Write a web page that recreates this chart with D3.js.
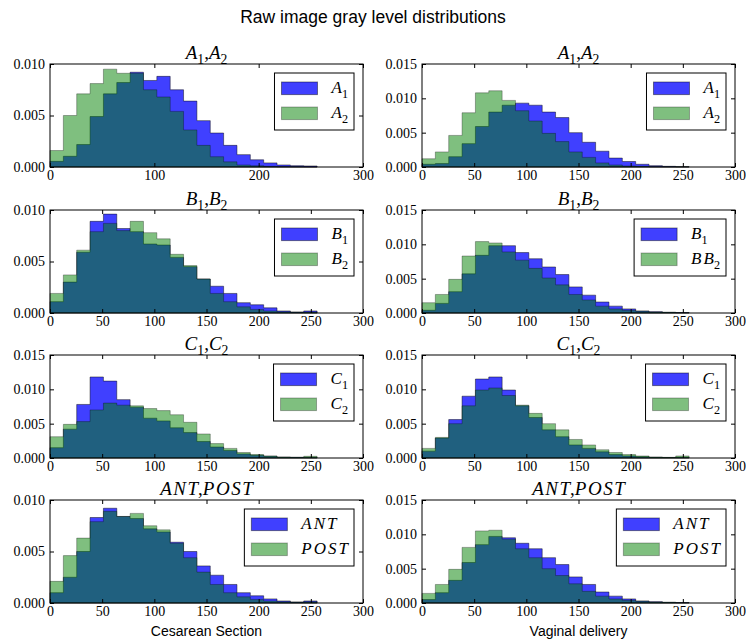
<!DOCTYPE html>
<html>

<head>
    <meta charset="utf-8">
    <title>gray level distributions</title>
    <style type="text/css">
    body {
        margin: 0;
        background: #fff;
    }

    .tick text {
        font-family: "Liberation Serif", serif;
        font-size: 14px;
        fill: #000;
    }

    .tick line {
        stroke: #000;
    }
    </style>
</head>

<body>
    <script src="https://cdn.jsdelivr.net/npm/d3@7"></script>
    <script>
    // bin edges of the 20-bin histograms (gray levels 0..256)
    var binEdges = [0, 12.8, 25.6, 38.4, 51.2, 64, 76.8, 89.6, 102.4, 115.2, 128,
        140.8, 153.6, 166.4, 179.2, 192, 204.8, 217.6, 230.4, 243.2, 256];

    // Cesarean section
    var csA1 = [0.00055, 0.00104, 0.00218, 0.0049, 0.0071, 0.0082, 0.0092, 0.0084, 0.0088, 0.0075,
        0.0064, 0.0045, 0.0033, 0.0021, 0.0012, 0.0007, 0.0004, 0.0002, 0.00013, 0.0001];
    var csA2 = [0.0016, 0.0050, 0.0071, 0.0081, 0.0095, 0.0091, 0.0091, 0.0075, 0.0068, 0.0054,
        0.0036, 0.0021, 0.0010, 0.0005, 0.0002, 0.00013, 0.00006, 0.00003, 0.00002, 0.00001];
    var csB1 = [0.0011, 0.0030, 0.0059, 0.0089, 0.0096, 0.0082, 0.0079, 0.0067, 0.0066, 0.0054,
        0.0045, 0.0033, 0.0026, 0.0019, 0.0010, 0.0008, 0.0005, 0.0002, 0.0001, 0.0002];
    var csB2 = [0.0019, 0.0037, 0.0061, 0.0079, 0.0087, 0.0080, 0.0089, 0.0078, 0.0072, 0.0057,
        0.0046, 0.0033, 0.0019, 0.0011, 0.0006, 0.00035, 0.0002, 0.00012, 0.00007, 0.0001];
    var csC1 = [0.0015, 0.0042, 0.0078, 0.0118, 0.0112, 0.0085, 0.0074, 0.0058, 0.0054, 0.0044,
        0.0037, 0.0024, 0.0016, 0.0011, 0.0006, 0.0004, 0.00025, 0.00012, 0.0001, 0.0001];
    var csC2 = [0.0031, 0.0049, 0.0053, 0.0070, 0.0080, 0.0077, 0.0076, 0.0072, 0.0069, 0.0063,
        0.0052, 0.0035, 0.0021, 0.0014, 0.0008, 0.0005, 0.0003, 0.00015, 0.0001, 0.00025];
    var csANT = [0.0010, 0.0025, 0.0050, 0.0083, 0.0092, 0.0084, 0.0082, 0.0072, 0.0069, 0.0059,
        0.0050, 0.0036, 0.0027, 0.0018, 0.0010, 0.0007, 0.0004, 0.0002, 0.0001, 0.0002];
    var csPOST = [0.0021, 0.0046, 0.0063, 0.0079, 0.0089, 0.0084, 0.0087, 0.0075, 0.0071, 0.0058,
        0.0044, 0.0030, 0.0018, 0.0010, 0.0006, 0.00035, 0.0002, 0.00012, 0.00008, 0.00012];

    // Vaginal delivery
    var vdA1 = [0.0004, 0.0005, 0.0015, 0.0034, 0.0059, 0.0080, 0.0090, 0.0093, 0.0090, 0.0080,
        0.0072, 0.0050, 0.0036, 0.0023, 0.0013, 0.0008, 0.0004, 0.0002, 0.0001, 0.00005];
    var vdA2 = [0.0012, 0.0022, 0.0046, 0.0079, 0.0108, 0.0111, 0.0097, 0.0082, 0.0067, 0.0049,
        0.0037, 0.0022, 0.0014, 0.0006, 0.0003, 0.00015, 0.0001, 0.00005, 0.00003, 0.00002];
    var vdB1 = [0.0004, 0.0014, 0.0031, 0.0057, 0.0084, 0.0098, 0.0098, 0.0088, 0.0079, 0.0067,
        0.0056, 0.0038, 0.0026, 0.0016, 0.0010, 0.0006, 0.0003, 0.0002, 0.0001, 0.00007];
    var vdB2 = [0.0015, 0.0027, 0.0049, 0.0083, 0.0104, 0.0102, 0.0089, 0.0077, 0.0065, 0.0051,
        0.0041, 0.0027, 0.0019, 0.0010, 0.0006, 0.0004, 0.00025, 0.00015, 0.0001, 0.00005];
    var vdC1 = [0.0010, 0.0029, 0.0056, 0.0090, 0.0115, 0.0118, 0.0099, 0.0076, 0.0059, 0.0041,
        0.0031, 0.0019, 0.0014, 0.0009, 0.0005, 0.0003, 0.0002, 0.0001, 0.00007, 0.0001];
    var vdC2 = [0.0014, 0.0030, 0.0050, 0.0076, 0.0099, 0.0102, 0.0091, 0.0077, 0.0065, 0.0050,
        0.0041, 0.0027, 0.0019, 0.0012, 0.0008, 0.0005, 0.0003, 0.00015, 0.0001, 0.0003];
    var vdANT = [0.0005, 0.0015, 0.0033, 0.0059, 0.0085, 0.0097, 0.0095, 0.0087, 0.0079, 0.0066,
        0.0056, 0.0038, 0.0027, 0.0016, 0.0010, 0.0006, 0.0003, 0.0002, 0.0001, 0.00007];
    var vdPOST = [0.0014, 0.0027, 0.0049, 0.0081, 0.0105, 0.0106, 0.0093, 0.0079, 0.0066, 0.0050,
        0.0040, 0.0028, 0.0017, 0.0010, 0.0006, 0.0004, 0.00025, 0.00015, 0.0001, 0.00005];

    // titles / legend labels as [base, subscript] pairs
    var titlesA = [['A', '1'], ['A', '2']],
        titlesB = [['B', '1'], ['B', '2']],
        titlesC = [['C', '1'], ['C', '2']],
        titlesAP = [['ANT', ''], ['POST', '']];
    var legendVdB = [['B', '1'], ['BB', '2']];

    var xTicksWide = [0, 100, 200, 300],
        xTicks = [0, 50, 100, 150, 200, 250, 300],
        yTicks010 = [0, 0.005, 0.010],
        yTicks015 = [0, 0.005, 0.010, 0.015];

    var colLabels = ['Cesarean Section', 'Vaginal delivery'];
    var mainTitle = 'Raw image gray level distributions';

    var panels = [
        { row: 0, col: 0, s: [csA1, csA2], title: titlesA, legend: titlesA, yMax: 0.010, yt: yTicks010, xt: xTicksWide },
        { row: 0, col: 1, s: [vdA1, vdA2], title: titlesA, legend: titlesA, yMax: 0.015, yt: yTicks015, xt: xTicks },
        { row: 1, col: 0, s: [csB1, csB2], title: titlesB, legend: titlesB, yMax: 0.010, yt: yTicks010, xt: xTicks },
        { row: 1, col: 1, s: [vdB1, vdB2], title: titlesB, legend: legendVdB, yMax: 0.015, yt: yTicks015, xt: xTicks },
        { row: 2, col: 0, s: [csC1, csC2], title: titlesC, legend: titlesC, yMax: 0.015, yt: yTicks015, xt: xTicks },
        { row: 2, col: 1, s: [vdC1, vdC2], title: titlesC, legend: titlesC, yMax: 0.015, yt: yTicks015, xt: xTicks },
        { row: 3, col: 0, s: [csANT, csPOST], title: titlesAP, legend: titlesAP, yMax: 0.010, yt: yTicks010, xt: xTicks },
        { row: 3, col: 1, s: [vdANT, vdPOST], title: titlesAP, legend: titlesAP, yMax: 0.015, yt: yTicks015, xt: xTicks }
    ];

    var colX = [50, 422],
        rowY = [64, 210, 355, 500],
        pw = 313,
        ph = 103;
    var colors = ['#0000ff', '#008000'],
        alphas = [0.75, 0.5];

    var svg = d3.select('body').append('svg')
        .attr('width', 746)
        .attr('height', 639);

    svg.append('text')
        .attr('x', 373).attr('y', 23)
        .attr('text-anchor', 'middle')
        .style('font-family', 'Liberation Sans, Arial, sans-serif')
        .style('font-size', '17.5px')
        .text(mainTitle);

    // writes math-ish text: italic base with upright subscripts, comma separated
    function mathText(txt, parts, size, spacing) {
        var shift = 0;
        parts.forEach(function(p, i) {
            if (i > 0) {
                txt.append('tspan').attr('dy', -shift).style('font-style', 'normal').text(',');
                shift = 0;
            }
            // letter spacing only between letters, not after the last one
            var head = p[0].slice(0, -1),
                last = p[0].slice(-1);
            if (head) {
                txt.append('tspan').attr('dy', -shift).style('font-style', 'italic')
                    .style('letter-spacing', spacing + 'px').text(head);
                shift = 0;
            }
            txt.append('tspan').attr('dy', -shift).style('font-style', 'italic').text(last);
            shift = 0;
            if (p[1]) {
                var d = size * 0.28;
                txt.append('tspan').attr('dy', d).style('font-style', 'normal')
                    .style('font-size', (size * 0.72) + 'px').text(p[1]);
                shift = d;
            }
        });
        return txt;
    }

    panels.forEach(function(p) {
        var g = svg.append('g')
            .attr('transform', 'translate(' + colX[p.col] + ',' + rowY[p.row] + ')');

        var x = d3.scaleLinear().domain([0, 300]).range([0, pw]);
        var y = d3.scaleLinear().domain([0, p.yMax]).range([ph, 0]);

        var area = d3.area()
            .x(function(d) { return x(d[0]); })
            .y0(y(0))
            .y1(function(d) { return y(d[1]); })
            .curve(d3.curveStepAfter);

        p.s.forEach(function(vals, k) {
            var pts = vals.map(function(v, i) { return [binEdges[i], v]; });
            pts.push([binEdges[binEdges.length - 1], vals[vals.length - 1]]);
            g.append('path')
                .attr('d', area(pts))
                .attr('fill', colors[k])
                .attr('fill-opacity', alphas[k])
                .attr('stroke', '#000')
                .attr('stroke-opacity', alphas[k] * 0.6)
                .attr('stroke-width', 1);
        });

        // axes, ticks pointing inward on all four sides
        var fmt = d3.format('.3f');
        g.append('g').attr('transform', 'translate(0,' + ph + ')')
            .call(d3.axisBottom(x).tickValues(p.xt).tickSize(-4).tickPadding(3).tickFormat(d3.format('d')))
            .call(function(a) { a.select('.domain').remove(); });
        g.append('g')
            .call(d3.axisTop(x).tickValues(p.xt).tickSize(-4).tickFormat(''))
            .call(function(a) { a.select('.domain').remove(); });
        g.append('g')
            .call(d3.axisLeft(y).tickValues(p.yt).tickSize(-4).tickPadding(5).tickFormat(fmt))
            .call(function(a) { a.select('.domain').remove(); });
        g.append('g').attr('transform', 'translate(' + pw + ',0)')
            .call(d3.axisRight(y).tickValues(p.yt).tickSize(-4).tickFormat(''))
            .call(function(a) { a.select('.domain').remove(); });

        g.append('rect')
            .attr('width', pw).attr('height', ph)
            .attr('fill', 'none').attr('stroke', '#000').attr('stroke-width', 1);

        // subplot title
        var t = g.append('text')
            .attr('x', pw / 2).attr('y', -5)
            .attr('text-anchor', 'middle')
            .style('font-family', 'Liberation Serif, serif')
            .style('font-size', '19px');
        mathText(t, p.title, 19, 1.5);

        // legend
        var lg = g.append('g');
        var box = lg.append('rect').attr('fill', '#fff').attr('stroke', '#000');
        var labelW = 0;
        p.legend.forEach(function(l, k) {
            lg.append('rect')
                .attr('x', 0).attr('y', 9 + k * 25)
                .attr('width', 36).attr('height', 12.6)
                .attr('fill', colors[k]).attr('fill-opacity', alphas[k])
                .attr('stroke', '#000').attr('stroke-opacity', alphas[k] * 0.6);
            var lt = lg.append('text')
                .attr('x', 50).attr('y', 20 + k * 25)
                .style('font-family', 'Liberation Serif, serif')
                .style('font-size', '17px');
            mathText(lt, [l], 17, 2);
            labelW = Math.max(labelW, lt.node().getComputedTextLength());
        });
        var bw = 50 + labelW + 6 + 7;
        box.attr('x', -7).attr('y', 0).attr('width', bw).attr('height', 57);
        lg.attr('transform', 'translate(' + (pw - 9 - bw + 7) + ',9)');
    });

    colLabels.forEach(function(c, i) {
        svg.append('text')
            .attr('x', colX[i] + pw / 2).attr('y', 636)
            .attr('text-anchor', 'middle')
            .style('font-family', 'Liberation Sans, Arial, sans-serif')
            .style('font-size', '14px')
            .text(c);
    });
    </script>
</body>

</html>
